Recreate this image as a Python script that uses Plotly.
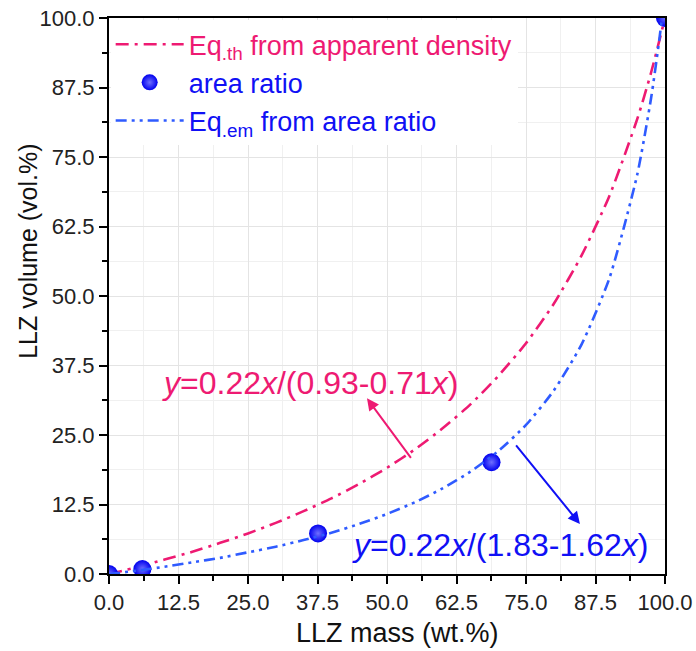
import plotly.graph_objects as go

# ---- data ----
mass_th = [0, 5, 10, 15, 20, 25, 30, 35, 40, 45, 50, 55, 60, 65, 70, 75, 80, 85, 90, 95, 97.5, 100]
vol_th = [0, 1.2, 2.6, 4.0, 5.6, 7.3, 9.2, 11.3, 13.6, 16.2, 19.1, 22.4, 26.2, 30.5, 35.6, 41.5,
          48.6, 57.3, 68.0, 81.8, 90.2, 100]

mass_em = [0, 5, 10, 15, 20, 25, 30, 35, 40, 45, 50, 55, 60, 65, 70, 75, 80, 85, 90, 95, 97.5, 99, 100]
vol_em = [0, 0.6, 1.3, 2.1, 2.9, 3.9, 4.9, 6.1, 7.4, 9.0, 10.8, 12.9, 15.4, 18.4, 22.1, 26.8,
          33.0, 41.3, 53.2, 71.8, 85.6, 96.3, 104.8]

mass_pts = [0, 6.0, 37.6, 68.8, 100]
vol_pts = [0, 0.9, 7.3, 20.1, 100]

tick_vals = [0, 12.5, 25, 37.5, 50, 62.5, 75, 87.5, 100]
tick_text = ["0.0", "12.5", "25.0", "37.5", "50.0", "62.5", "75.0", "87.5", "100.0"]

x_title = "LLZ mass (wt.%)"
y_title = "LLZ volume (vol.%)"

PINK = "#EE1A72"
BLUE_TXT = "#1010F5"
BLUE_LINE = "#2F5BFF"
BLUE_MK = "#0000EE"
FONT = "Arial, Liberation Sans, sans-serif"

fig = go.Figure()
fig.add_trace(go.Scatter(
    x=mass_th, y=vol_th, mode="lines", legendgroup="a",
    name=f"<span style='color:{PINK}'>Eq<sub>.th</sub> from apparent density</span>",
    line=dict(color=PINK, width=2.6, dash="13px,6px,3px,6px", shape="spline", smoothing=0.6),
))
fig.add_trace(go.Scatter(
    x=mass_pts, y=vol_pts, mode="markers", legendgroup="b",
    name=f"<span style='color:{BLUE_TXT}'>area ratio</span>",
    marker=dict(size=18, color=BLUE_MK, gradient=dict(type="radial", color="#6f6fff")),
))
fig.add_trace(go.Scatter(
    x=mass_em, y=vol_em, mode="lines", legendgroup="c",
    name=f"<span style='color:{BLUE_TXT}'>Eq<sub>.em</sub> from area ratio</span>",
    line=dict(color=BLUE_LINE, width=2.6, dash="11px,5px,3px,5px,3px,5px", shape="spline", smoothing=0.6),
))

# equations + arrows
fig.add_annotation(x=36.2, y=34.4, xref="x", yref="y", showarrow=False,
                   text="<i>y</i>=0.22<i>x</i>/(0.93-0.71<i>x</i>)",
                   font=dict(size=32, color=PINK, family=FONT))
fig.add_annotation(x=70.3, y=5.3, xref="x", yref="y", showarrow=False,
                   text="<i>y</i>=0.22<i>x</i>/(1.83-1.62<i>x</i>)",
                   font=dict(size=32, color=BLUE_TXT, family=FONT))
fig.add_annotation(x=46.4, y=31.6, ax=54.5, ay=20.6, xref="x", yref="y", axref="x", ayref="y",
                   text="", showarrow=True, arrowhead=2, arrowsize=1.2, arrowwidth=2, arrowcolor=PINK)
fig.add_annotation(x=84.7, y=9.0, ax=73.0, ay=23.4, xref="x", yref="y", axref="x", ayref="y",
                   text="", showarrow=True, arrowhead=2, arrowsize=1.2, arrowwidth=2, arrowcolor=BLUE_TXT)

# axis titles
fig.add_annotation(x=0.518, y=-0.107, xref="paper", yref="paper", showarrow=False,
                   text=x_title, xanchor="center", yanchor="middle",
                   font=dict(size=27, color="#111111", family=FONT))
fig.add_annotation(x=-0.146, y=0.581, xref="paper", yref="paper", showarrow=False,
                   text=y_title, textangle=-90, xanchor="center", yanchor="middle",
                   font=dict(size=25, color="#111111", family=FONT))

axis_common = dict(
    range=[0, 100], tickvals=tick_vals, ticktext=tick_text, automargin=False,
    showline=True, linecolor="black", linewidth=2, mirror=True,
    ticks="outside", ticklen=8, tickwidth=2, tickcolor="black",
    showgrid=True, gridcolor="#e4e4e4", gridwidth=1, zeroline=False,
    tickfont=dict(size=22, color="#222222", family=FONT),
    minor=dict(dtick=6.25, tick0=0, ticks="outside", ticklen=5, tickwidth=2, tickcolor="black",
               showgrid=True, gridcolor="#f0f0f0", gridwidth=1),
)
fig.update_xaxes(**axis_common)
fig.update_yaxes(**axis_common)

fig.update_layout(
    width=696, height=651,
    margin=dict(l=109, r=31, t=18, b=77),
    plot_bgcolor="white", paper_bgcolor="white",
    font=dict(family=FONT),
    showlegend=True,
    legend=dict(x=0.003, y=0.996, xanchor="left", yanchor="top", bgcolor="white",
                font=dict(size=27, family=FONT), itemwidth=68, tracegroupgap=0,
                borderwidth=0),
)

fig.write_html("out.html")
